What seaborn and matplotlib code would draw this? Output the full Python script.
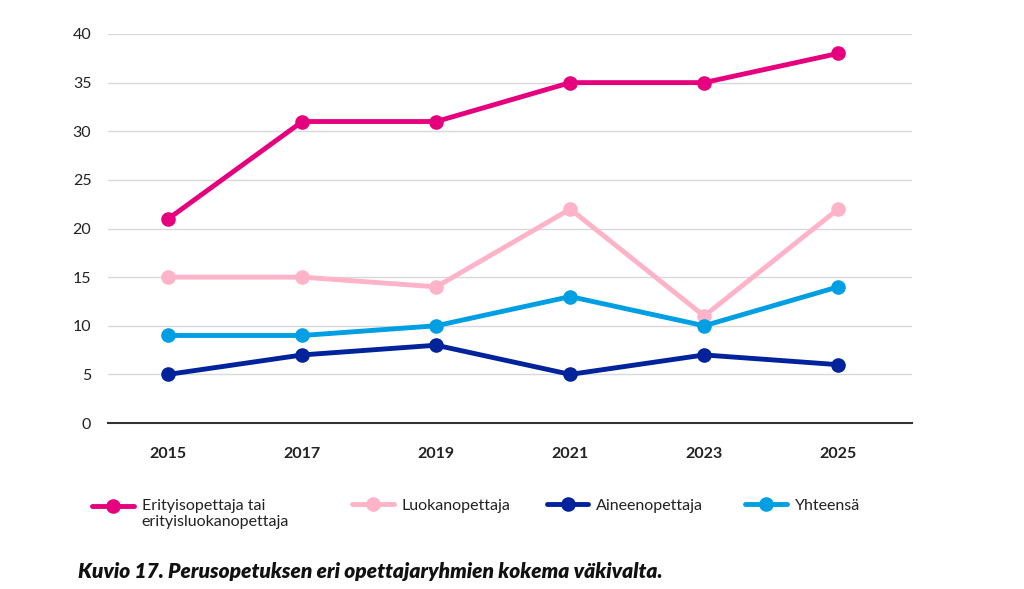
import matplotlib
matplotlib.use("Agg")
import matplotlib.pyplot as plt
import seaborn as sns
import pandas as pd
from matplotlib.legend_handler import HandlerLine2D

years = ["2015", "2017", "2019", "2021", "2023", "2025"]
series_names = ["Erityisopettaja tai\nerityisluokanopettaja", "Luokanopettaja", "Aineenopettaja", "Yhteensä"]
erityis = [21, 31, 31, 35, 35, 38]
luokan = [15, 15, 14, 22, 11, 22]
aineen = [5, 7, 8, 5, 7, 6]
yhteensa = [9, 9, 10, 13, 10, 14]
y_ticks = [0, 5, 10, 15, 20, 25, 30, 35, 40]
caption = "Kuvio 17. Perusopetuksen eri opettajaryhmien kokema väkivalta."

colors = ["#E6007E", "#FFB3C8", "#00239C", "#009FE3"]

rows = []
for name, vals in zip(series_names, [erityis, luokan, aineen, yhteensa]):
    for yr, v in zip(years, vals):
        rows.append({"Vuosi": yr, "Arvo": v, "Ryhmä": name})
df = pd.DataFrame(rows)

sns.set_theme(style="white")
plt.rcParams["font.family"] = ["Lato", "DejaVu Sans"]

fig = plt.figure(figsize=(10.24, 5.89), dpi=100)
ax = fig.add_axes([0.1055, 0.2818, 0.785, 0.6605])

sns.lineplot(data=df, x="Vuosi", y="Arvo", hue="Ryhmä", palette=colors,
             marker="o", markersize=10.5, markeredgewidth=0, linewidth=3.5,
             sort=False, ax=ax, legend=True)

ax.set_ylim(0, 40)
ax.set_xlim(-0.45, 5.55)
ax.set_yticks(y_ticks)
ax.set_yticklabels([str(t) for t in y_ticks], fontsize=11.5, color="#222222")
ax.tick_params(axis="y", length=0, pad=12)
ax.tick_params(axis="x", length=0, pad=17)
for lab in ax.get_xticklabels():
    lab.set_fontweight("bold")
    lab.set_fontsize(11.5)
    lab.set_color("#222222")
ax.grid(axis="y", color="#D9D9D9", linewidth=1)
ax.set_axisbelow(True)
ax.set_xlabel("")
ax.set_ylabel("")
for s in ["left", "right", "top"]:
    ax.spines[s].set_visible(False)
ax.spines["bottom"].set_color("#333333")
ax.spines["bottom"].set_linewidth(1.5)


class TopAlignedLine(HandlerLine2D):
    def __init__(self, shift=0.0, **kw):
        super().__init__(**kw)
        self.shift = shift

    def create_artists(self, legend, orig_handle, xdescent, ydescent,
                       width, height, fontsize, trans):
        return super().create_artists(legend, orig_handle, xdescent,
                                      ydescent - 2 * self.shift, width,
                                      height, fontsize, trans)


handles, labels = ax.get_legend_handles_labels()
ax.get_legend().remove()
xs = [0.090, 0.344, 0.534, 0.728]
shifts = [5.8, 0, 0, 0]
for h, l, x, sh in zip(handles, labels, xs, shifts):
    leg = fig.legend([h], [l], loc="upper left", bbox_to_anchor=(x, 0.153),
                     frameon=False, fontsize=11.5, handlelength=2.6,
                     handletextpad=0.5, borderaxespad=0, borderpad=0,
                     handler_map={h: TopAlignedLine(shift=sh)})
    for t in leg.get_texts():
        t.set_color("#222222")

fig.text(0.076, 0.018, caption, fontsize=15, fontweight="heavy",
         fontstyle="italic", color="#111111", ha="left", va="baseline")

fig.savefig("out.png", dpi=100, facecolor="white")
